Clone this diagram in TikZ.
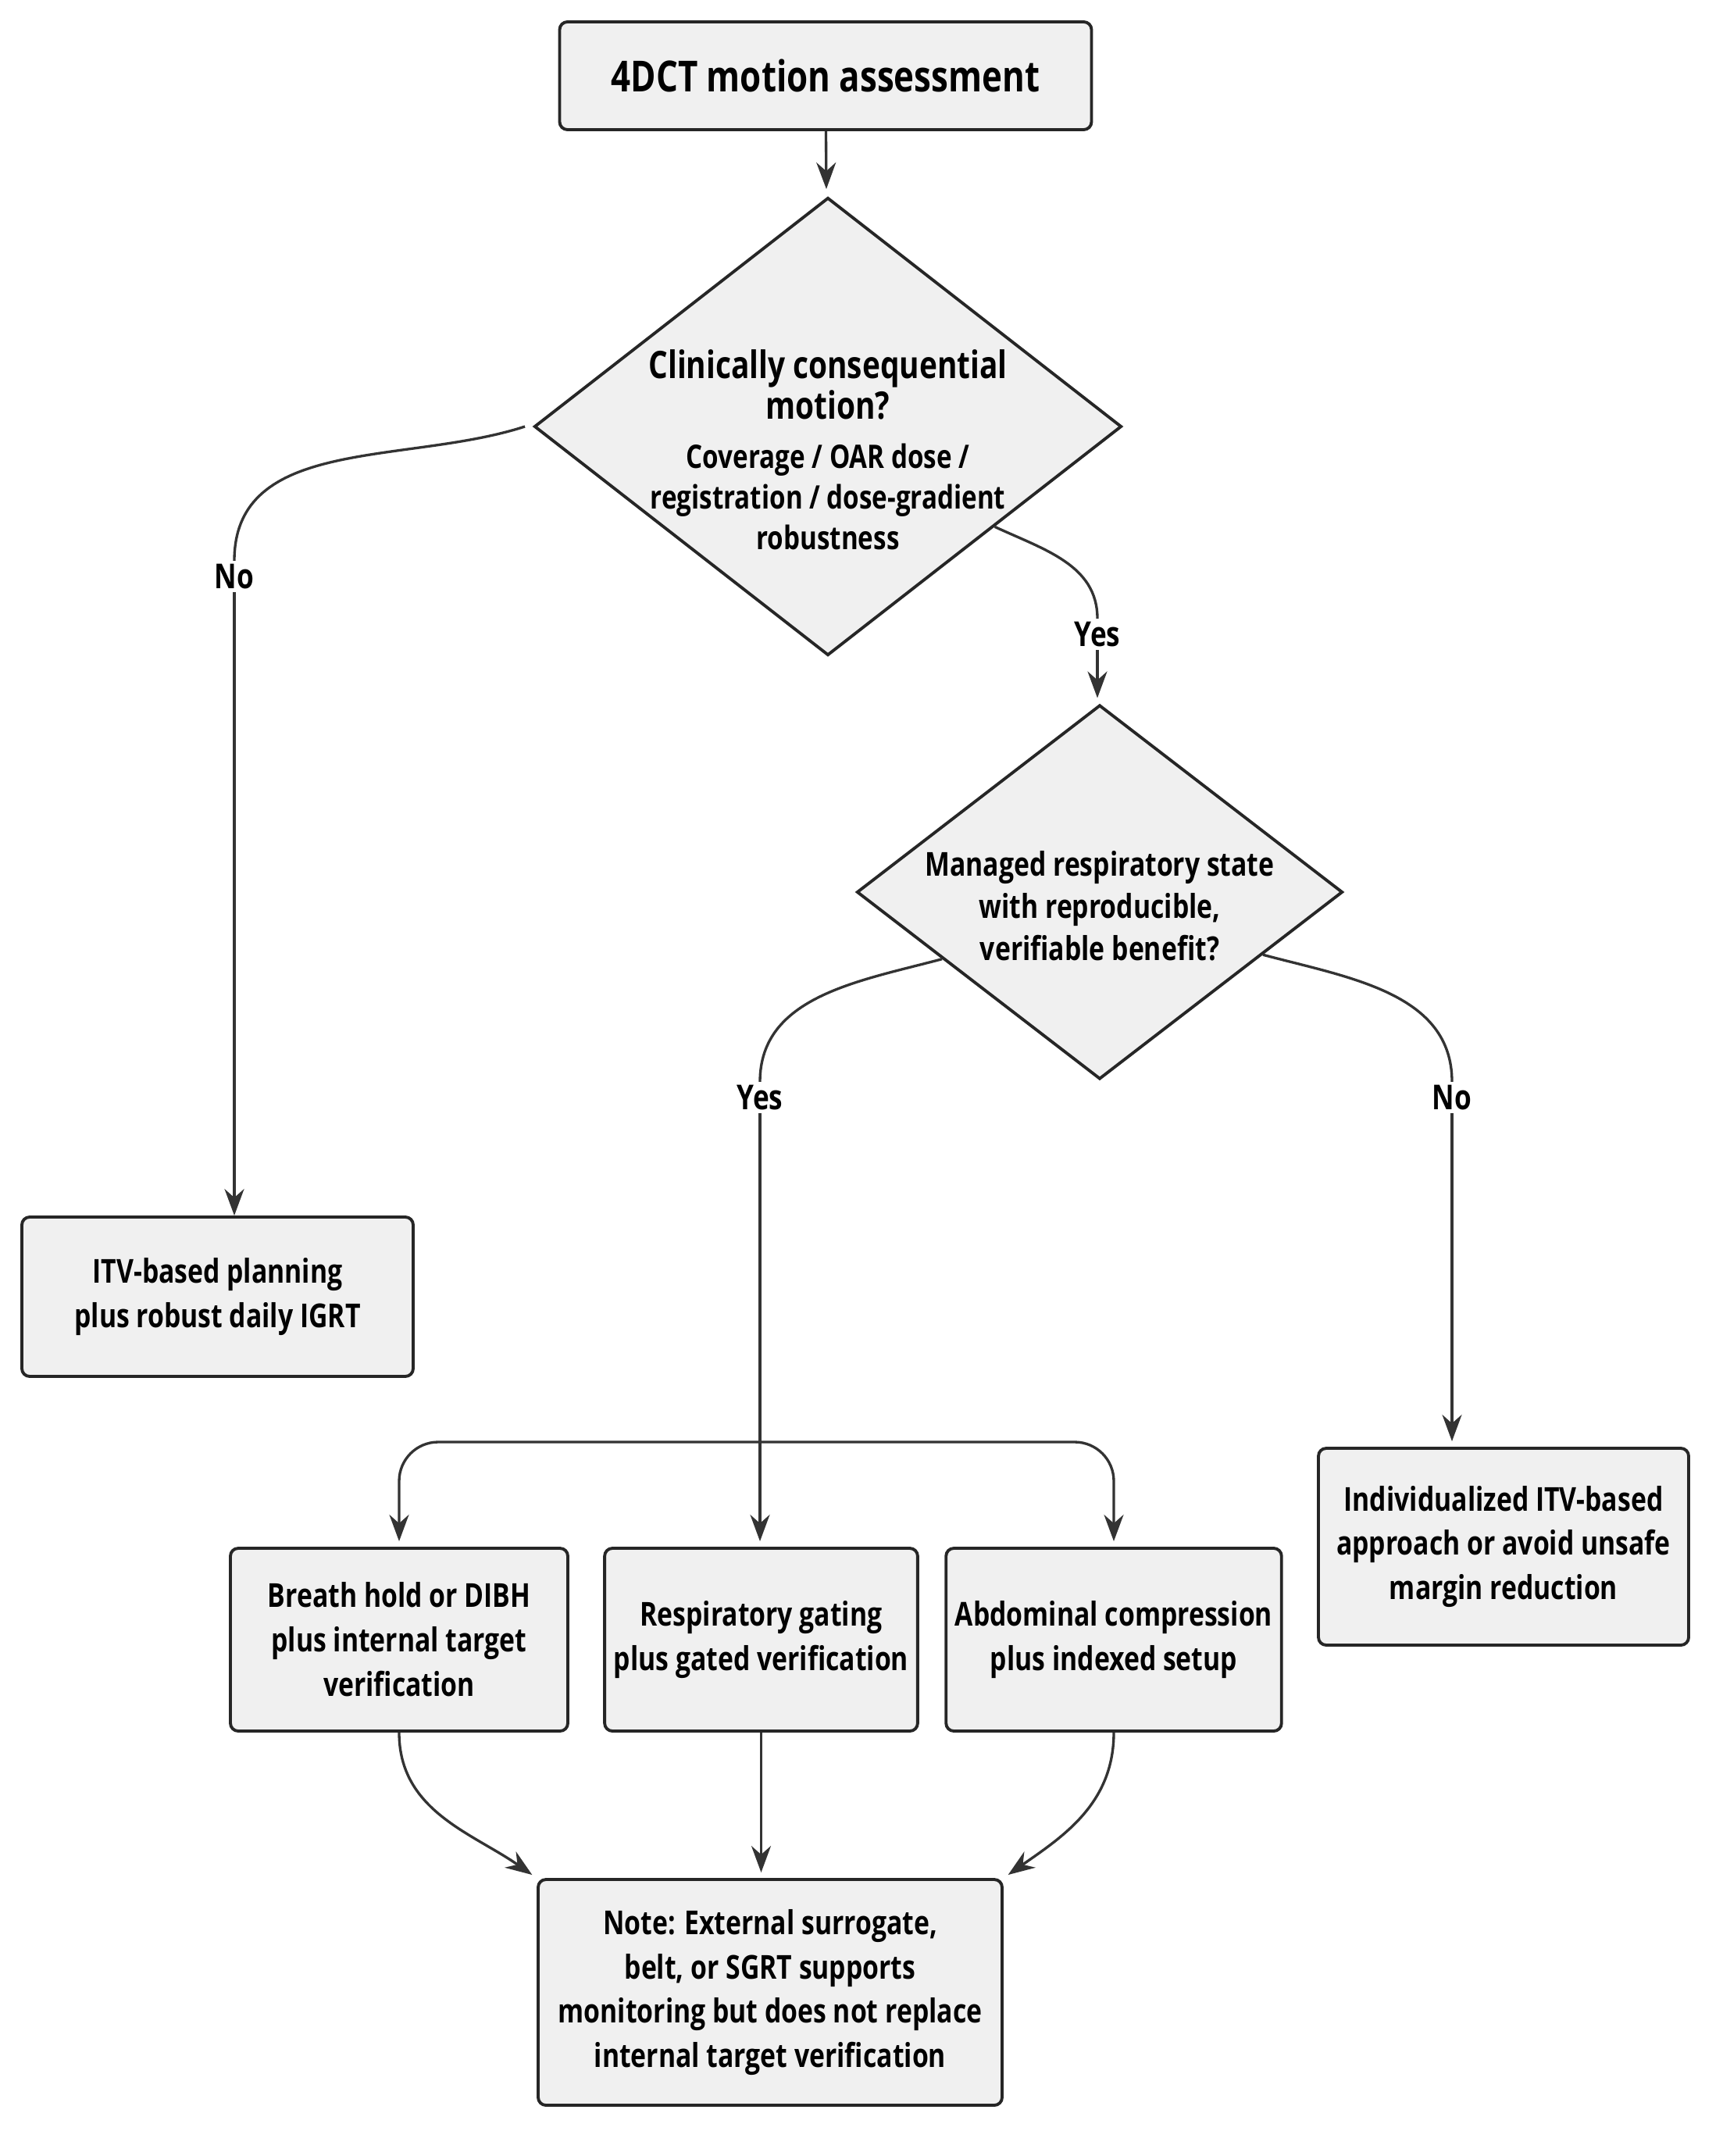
\documentclass[tikz,border=0pt]{standalone}
\usepackage{fontspec}
\setmainfont{Open Sans}[FakeStretch=0.8]
\usetikzlibrary{shapes.geometric,arrows.meta,positioning}

\begin{document}
\begin{tikzpicture}[
	box/.style={rectangle, rounded corners=1mm, draw=black!85, line width=1.1pt, fill=black!6, align=center, font=\bfseries\fontsize{12}{16.2}\selectfont},
	decision/.style={diamond, aspect=1.28, inner sep=0pt, draw=black!85, line width=1.1pt, fill=black!6},
	question/.style={align=center, inner sep=0pt, font=\bfseries\fontsize{12}{15.3}\selectfont},
	answer/.style={inner sep=1pt, font=\bfseries\fontsize{12.5}{14}\selectfont},
	link/.style={draw=black!80, line width=0.95pt},
	>={Stealth[length=3.4mm, width=2.5mm]}]

	\useasboundingbox (0,0) rectangle (22.05,-27.60);

	%Nodes
	\node[box, minimum width=68.1mm, minimum height=13.8mm, font=\bfseries\fontsize{15.6}{18}\selectfont]	(start)	at (10.57,-0.97)	{4DCT motion assessment};
	\node[decision, minimum width=75.2mm, minimum height=58.6mm]	(motion)	at (10.60,-5.46)	{};
	\node[decision, minimum width=62.2mm, minimum height=47.9mm]	(managed)	at (14.08,-11.42)	{};
	\node[box, minimum width=50.1mm, minimum height=20.4mm]	(itv)	at (2.785,-16.60)	{ITV-based planning\\plus robust daily IGRT};
	\node[box, minimum width=47.4mm, minimum height=25.2mm]	(indiv)	at (19.25,-19.80)	{Individualized ITV-based\\approach or avoid unsafe\\margin reduction};
	\node[box, minimum width=43.2mm, minimum height=23.4mm]	(breath)	at (5.11,-20.99)	{Breath hold or DIBH\\plus internal target\\verification};
	\node[box, minimum width=39.7mm, minimum height=23.4mm]	(gating)	at (9.745,-20.99)	{Respiratory gating\\plus gated verification};
	\node[box, minimum width=41.0mm, minimum height=23.4mm]	(abdo)	at (14.26,-20.99)	{Abdominal compression\\plus indexed setup};
	\node[box, minimum width=59.4mm, minimum height=28.9mm]	(note)	at (9.86,-25.505)	{Note: External surrogate,\\belt, or SGRT supports\\monitoring but does not replace\\internal target verification};

	%Questions
	\node[question, font=\bfseries\fontsize{13.8}{14.8}\selectfont]	(motiontext)	at ([yshift=-3mm]motion.center)	{Clinically consequential\\motion?\\[3pt]{\fontsize{11.8}{13.5}\selectfont Coverage / OAR dose /}\\{\fontsize{11.8}{13.5}\selectfont registration / dose-gradient}\\{\fontsize{11.8}{13.5}\selectfont robustness}};
	\node[question]	(managedtext)	at ([yshift=-1.8mm]managed.center)	{Managed respiratory state\\with reproducible,\\verifiable benefit?};

	%Labels
	\node[answer]	(no1)	at (3.00,-7.38)	{No};
	\node[answer]	(yes1)	at (14.05,-8.12)	{Yes};
	\node[answer]	(yes2)	at (9.73,-14.05)	{Yes};
	\node[answer]	(no2)	at (18.59,-14.05)	{No};
	\coordinate	(bus)	at (9.70,-18.46);

	%Lines
	\draw[link, ->, shorten >=3pt] (start) -- (motion);
	\draw[link] (motion.west) ++(-0.1,0) to[out=198, in=90] (no1.north);
	\draw[link] (motion.-31) to[out=-25, in=90] (yes1.north);
	\draw[link, ->] (no1.south) -- (no1.south |- itv.north);
	\draw[link, ->, shorten >=2pt] (yes1.south) -- (yes1.south |- managed.north);
	\draw[link] (managed.203) to[out=195, in=90] (yes2.north);
	\draw[link, ->, shorten >=2pt] (yes2.south) -- (yes2.south |- gating.north);
	\draw[link] (managed.-21) to[out=-15, in=90] (no2.north);
	\draw[link, ->, shorten >=2pt] (no2.south) -- (no2.south |- indiv.north);
	\draw[link, ->, rounded corners=5mm, shorten >=2pt] (bus) -| (breath.north);
	\draw[link, ->, rounded corners=5mm, shorten >=2pt] (bus) -| (abdo.north);
	\draw[link, ->, shorten >=2pt] (breath.south) to[out=-90, in=145] (note.north west);
	\draw[link, ->, shorten >=2pt] (gating.south) -- (gating.south |- note.north);
	\draw[link, ->, shorten >=2pt] (abdo.south) to[out=-90, in=35] (note.north east);
\end{tikzpicture}
\end{document}
